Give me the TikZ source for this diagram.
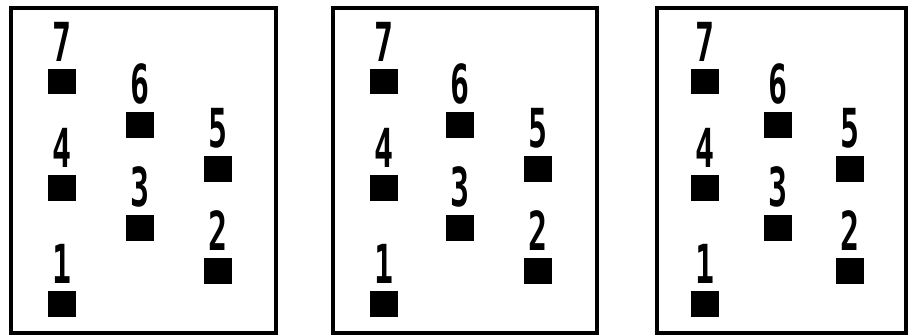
\documentclass[tikz,border=0pt]{standalone}
\usepackage{fontspec}
\setmonofont{DejaVu Sans Mono}
\usepackage{graphicx}
\usetikzlibrary{positioning}

\newcommand{\tallnum}[1]{\scalebox{1}[1.7]{#1}}

\begin{document}
\begin{tikzpicture}[x=0.03cm, y=-0.03cm,
		blk/.style={fill=black, minimum width=0.85cm, minimum height=0.77cm, inner sep=0pt},
		num/.style={inner sep=0pt, font=\ttfamily\bfseries\fontsize{27}{27}\selectfont},
		frame/.style={draw, line width=3pt}]
	\useasboundingbox (0,0) rectangle (910,336);

	% panel: name / left edge / right edge / column centres
	\foreach \p/\l/\r/\ca/\cb/\cc in {a/11/276/62/140/218, b/333/597/384/460/538, c/657/906/705/778/850} {
		\draw[frame] (\l,8) rectangle (\r,333);

		\node[blk] (\p7) at (\ca,81.5) {};
		\node[blk] (\p4) at (\ca,188) {};
		\node[blk] (\p1) at (\ca,304) {};
		\node[blk] (\p6) at (\cb,125) {};
		\node[blk] (\p3) at (\cb,228) {};
		\node[blk] (\p5) at (\cc,169) {};
		\node[blk] (\p2) at (\cc,271) {};

		\node[num, above=6pt of \p7] (\p7n) {\tallnum{7}};
		\node[num, above=6pt of \p4] (\p4n) {\tallnum{4}};
		\node[num, above=6pt of \p1] (\p1n) {\tallnum{1}};
		\node[num, above=6pt of \p6] (\p6n) {\tallnum{6}};
		\node[num, above=6pt of \p3] (\p3n) {\tallnum{3}};
		\node[num, above=6pt of \p5] (\p5n) {\tallnum{5}};
		\node[num, above=6pt of \p2] (\p2n) {\tallnum{2}};
	}
\end{tikzpicture}
\end{document}
